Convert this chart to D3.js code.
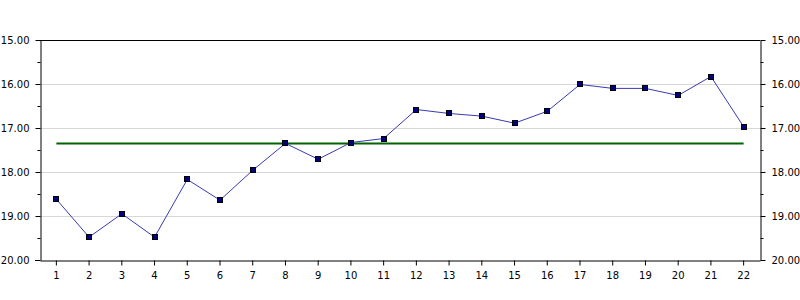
<!DOCTYPE html>
<html>
<head>
<meta charset="utf-8">
<script src="https://cdn.jsdelivr.net/npm/d3@7"></script>
<style>
  body { margin: 0; background: #fff; }
  svg text { font-family: "DejaVu Sans", sans-serif; font-size: 10px; fill: #000; }
</style>
</head>
<body>
<svg id="chart" width="800" height="300"></svg>
<script>
var categories = ["1","2","3","4","5","6","7","8","9","10","11","12","13","14","15","16","17","18","19","20","21","22"]
var values = [18.62, 19.48, 18.95, 19.48, 18.17, 18.64, 17.96, 17.35, 17.71, 17.33, 17.24,
  16.58, 16.67, 16.73, 16.89, 16.62, 16.01, 16.10, 16.10, 16.26, 15.83, 16.97]
var average = [17.35]
var yTicks = [15, 16, 17, 18, 19, 20]
var yMinorTicks = [15.5, 16.5, 17.5, 18.5, 19.5]

var svg = d3.select("#chart")
var margin = {top: 40, right: 40, bottom: 40, left: 40}
var width = 800 - margin.left - margin.right
var height = 300 - margin.top - margin.bottom

var g = svg.append("g").attr("transform", "translate(" + margin.left + "," + margin.top + ")")

var x = d3.scaleBand().domain(categories).range([0, width])
var y = d3.scaleLinear().domain([15, 20]).range([0, height])

// grid
g.append("g")
  .selectAll("line")
  .data(yTicks.slice(1, -1))
  .enter().append("line")
  .attr("x1", 0).attr("x2", width)
  .attr("y1", function(d) { return Math.round(y(d)) + 0.5 })
  .attr("y2", function(d) { return Math.round(y(d)) + 0.5 })
  .attr("stroke", "#d8d8d8")

// top border
g.append("line")
  .attr("x1", 0).attr("x2", width)
  .attr("y1", 0.5).attr("y2", 0.5)
  .attr("stroke", "#000")

function styleAxis(sel) {
  sel.select(".domain").attr("stroke", "#000")
  sel.selectAll(".tick line").attr("stroke", "#000")
  sel.selectAll("text").attr("font-family", "DejaVu Sans, sans-serif").attr("font-size", 10)
}

var fmt = d3.format(".2f")

var left = g.append("g").attr("transform", "translate(0.5,0)")
  .call(d3.axisLeft(y).tickValues(yTicks).tickFormat(fmt).tickSize(5).tickSizeOuter(0).tickPadding(6))
left.call(styleAxis)
left.append("g").selectAll("line").data(yMinorTicks).enter().append("line")
  .attr("x1", -3).attr("x2", 0)
  .attr("y1", function(d) { return Math.round(y(d)) + 0.5 })
  .attr("y2", function(d) { return Math.round(y(d)) + 0.5 })
  .attr("stroke", "#000")

var right = g.append("g").attr("transform", "translate(" + (width + 0.5) + ",0)")
  .call(d3.axisRight(y).tickValues(yTicks).tickFormat(fmt).tickSize(5).tickSizeOuter(0).tickPadding(6))
right.call(styleAxis)
right.append("g").selectAll("line").data(yMinorTicks).enter().append("line")
  .attr("x1", 0).attr("x2", 3)
  .attr("y1", function(d) { return Math.round(y(d)) + 0.5 })
  .attr("y2", function(d) { return Math.round(y(d)) + 0.5 })
  .attr("stroke", "#000")

var bottom = g.append("g").attr("transform", "translate(0," + (height + 0.5) + ")")
  .call(d3.axisBottom(x).tickSize(5).tickSizeOuter(0).tickPadding(6))
bottom.call(styleAxis)
bottom.append("line").attr("x1", -5).attr("x2", 0).attr("stroke", "#000")

var cx = function(d, i) { return x(categories[i]) + x.bandwidth() / 2 }

// average line, from first to last category
g.append("line")
  .attr("x1", cx(null, 0)).attr("x2", cx(null, categories.length - 1))
  .attr("y1", y(average[0])).attr("y2", y(average[0]))
  .attr("stroke", "#006400")
  .attr("stroke-width", 2)

var line = d3.line()
  .x(cx)
  .y(function(d) { return y(d) })

g.append("path")
  .datum(values)
  .attr("fill", "none")
  .attr("stroke", "#3a3ab0")
  .attr("stroke-width", 1)
  .attr("d", line)

g.append("g").selectAll("rect")
  .data(values)
  .enter().append("rect")
  .attr("x", function(d, i) { return Math.round(cx(d, i)) - 2.5 })
  .attr("y", function(d) { return Math.round(y(d)) - 2.5 })
  .attr("width", 5).attr("height", 5)
  .attr("fill", "#000080")
  .attr("stroke", "#000")
  .attr("stroke-width", 1)
</script>
</body>
</html>
